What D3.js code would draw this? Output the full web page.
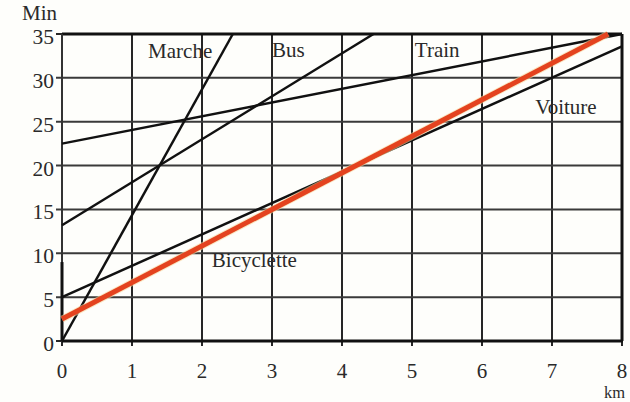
<!DOCTYPE html>
<html><head><meta charset="utf-8">
<script src="https://cdn.jsdelivr.net/npm/d3@7"></script>
<style>
html,body{margin:0;padding:0;background:#fefefb;}
svg{display:block;}
text{font-family:"Liberation Serif","Times New Roman",serif;fill:#2a2a2a;}
</style></head>
<body>
<svg id="chart" width="630" height="402"></svg>
<script>
// Data
const xTicks = [0,1,2,3,4,5,6,7,8];
const yTicks = [0,5,10,15,20,25,30,35];
const xUnit = "km";
const yUnit = "Min";
const names = ["Marche","Bus","Train","Voiture","Bicyclette"];
// each series: [km, min] start and end points
const marche = [[0,0],[2.44,35]];
const bus = [[0,13.2],[4.45,35]];
const train = [[0,22.5],[8,35]];
const voiture = [[0,5],[8,33.6]];
const bicyclette = [[0,2.5],[7.8,35]];
const labelPos = [[1.23,32.3],[3.0,32.4],[5.04,32.4],[6.76,25.9],[2.14,8.4]];

const svg = d3.select("#chart");
const x = d3.scaleLinear().domain([0,8]).range([62,622]);
const y = d3.scaleLinear().domain([0,35]).range([341,34]);

// grid
const g = svg.append("g");
g.selectAll(".vg").data(xTicks.slice(1,-1)).enter().append("line")
  .attr("x1",d=>x(d)).attr("x2",d=>x(d)).attr("y1",y(35)).attr("y2",y(0)+5)
  .attr("stroke","#262626").attr("stroke-width",2);
g.selectAll(".hg").data(yTicks.slice(1,-1)).enter().append("line")
  .attr("x1",x(0)-6).attr("x2",x(8)).attr("y1",d=>y(d)).attr("y2",d=>y(d))
  .attr("stroke","#3a3a3a").attr("stroke-width",2);
// ticks at ends
g.append("line").attr("x1",x(0)-6).attr("x2",x(0)).attr("y1",y(35)).attr("y2",y(35)).attr("stroke","#262626").attr("stroke-width",2);
g.append("line").attr("x1",x(0)-6).attr("x2",x(0)).attr("y1",y(0)).attr("y2",y(0)).attr("stroke","#262626").attr("stroke-width",2);
g.append("line").attr("x1",x(0)).attr("x2",x(0)).attr("y1",y(0)).attr("y2",y(0)+5).attr("stroke","#262626").attr("stroke-width",2);
g.append("line").attr("x1",x(8)).attr("x2",x(8)).attr("y1",y(0)).attr("y2",y(0)+5).attr("stroke","#262626").attr("stroke-width",2);
// frame
g.append("line").attr("x1",x(0)).attr("x2",x(8)).attr("y1",y(35)).attr("y2",y(35)).attr("stroke","#111").attr("stroke-width",3);
g.append("line").attr("x1",x(0)).attr("x2",x(8)+1).attr("y1",y(0)).attr("y2",y(0)).attr("stroke","#111").attr("stroke-width",3);
g.append("line").attr("x1",x(8)).attr("x2",x(8)).attr("y1",y(35)).attr("y2",y(0)).attr("stroke","#111").attr("stroke-width",3);
g.append("line").attr("x1",x(0)).attr("x2",x(0)).attr("y1",y(35)).attr("y2",y(0)).attr("stroke","#333").attr("stroke-width",2);
g.append("line").attr("x1",x(0)).attr("x2",x(0)).attr("y1",y(9)).attr("y2",y(0)).attr("stroke","#111").attr("stroke-width",3);

// tick labels
svg.selectAll(".yl").data(yTicks).enter().append("text")
  .attr("x",54).attr("y",d=>y(d)+10).attr("text-anchor","end")
  .attr("font-size",21.5).text(d=>d);
svg.selectAll(".xl").data(xTicks).enter().append("text")
  .attr("x",d=>x(d)).attr("y",378).attr("text-anchor","middle")
  .attr("font-size",21).text(d=>d);
svg.append("text").attr("x",22).attr("y",20).attr("font-size",21).text(yUnit);
svg.append("text").attr("x",604).attr("y",397.5).attr("font-size",16.5).text(xUnit);

// lines
const line = d3.line().x(d=>x(d[0])).y(d=>y(d[1]));
const series = [marche,bus,train,voiture];
svg.selectAll(".ser").data(series).enter().append("path")
  .attr("d",line).attr("fill","none").attr("stroke","#111").attr("stroke-width",2.5);
svg.append("path").attr("d",line(bicyclette)).attr("fill","none")
  .attr("stroke","#f6d9a0").attr("stroke-width",7).attr("opacity",0.6);
svg.append("path").attr("d",line(bicyclette)).attr("fill","none")
  .attr("stroke","#e4431f").attr("stroke-width",5);

// series labels
svg.selectAll(".sl").data(names).enter().append("text")
  .attr("x",(d,i)=>x(labelPos[i][0])).attr("y",(d,i)=>y(labelPos[i][1]))
  .attr("font-size",21).text(d=>d);
</script>
</body></html>
